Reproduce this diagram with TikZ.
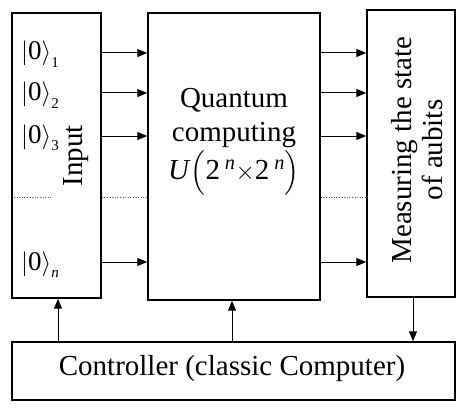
\documentclass[tikz,border=0pt]{standalone}
\usepackage{amsmath}
\usepackage{fontspec}
\setmainfont{Liberation Serif}
\usetikzlibrary{arrows.meta}
\tikzset{
  box/.style={draw, line width=1.4pt, rectangle, inner sep=0pt},
  arr/.style={line width=1pt, -{Triangle[length=10pt,width=8pt]}},
  dots/.style={line width=0.6pt, dotted, gray!70!black},
  big/.style={font=\fontsize{29}{31}\selectfont, inner sep=0pt},
  ketf/.style={font=\fontsize{27}{30}\selectfont, inner sep=0pt, anchor=base west},
}
\newcommand{\myket}[1]{$\left|\mathrm{0}\right\rangle_{\text{\fontsize{15}{15}\selectfont #1}}$}
\begin{document}
\begin{tikzpicture}[x=1pt,y=-1pt]
\useasboundingbox (0,0) rectangle (469,412);
% boxes
\node[box, minimum width=89pt, minimum height=285pt] (inp) at (56.5,155.5) {};
\node[box, minimum width=172pt, minimum height=287pt] (qc) at (234,156.5) {};
\node[box, minimum width=88pt, minimum height=287pt] (ms) at (411,153.5) {};
\node[box, minimum width=443pt, minimum height=58pt] (ctl) at (233.5,371) {};
% texts
\node[big, rotate=90] (tin) at (76,156) {Input};
\node[big, anchor=base] (tq1) at (234,108) {Quantum};
\node[big, anchor=base] (tq2) at (234,142) {computing};
\node[big, anchor=base] (tq3) at (234,179) {\textit{U}$\Bigl($2\,$^{\textit{n}}$$\times$2\,$^{\textit{n}}\Bigr)$};
\node[big, rotate=90, align=center, font=\fontsize{29}{31}\selectfont] (tms) at (417,150) {Measuring the state\\of aubits};
\node[big] (tctl) at (232,369) {Controller (classic Computer)};
% kets
\node[ketf] (k1) at (21,60) {\myket{1}};
\node[ketf] (k2) at (21,101) {\myket{2}};
\node[ketf] (k3) at (21,143) {\myket{3}};
\node[ketf] (kn) at (21,270) {\myket{\textit{n}}};
% horizontal arrows
\foreach \yy in {53,93,136,262}{
  \draw[arr] (inp.east |- 0,\yy) -- (qc.west |- 0,\yy);
  \draw[arr] (qc.east |- 0,\yy) -- (ms.west |- 0,\yy);
}
% dotted lines
\coordinate (d0) at (14,197);
\coordinate (d1) at (53,197);
\draw[dots] (d0) -- (d1);
\draw[dots] (inp.east |- d0) -- (qc.west |- d0);
\draw[dots] (qc.east |- d0) -- (ms.west |- d0);
% vertical arrows
\draw[arr] (ctl.north -| 58,0) -- (inp.south -| 58,0);
\draw[arr] (ctl.north -| 232,0) -- (qc.south -| 232,0);
\draw[arr] (ms.south -| 413,0) -- (ctl.north -| 413,0);
\end{tikzpicture}
\end{document}
